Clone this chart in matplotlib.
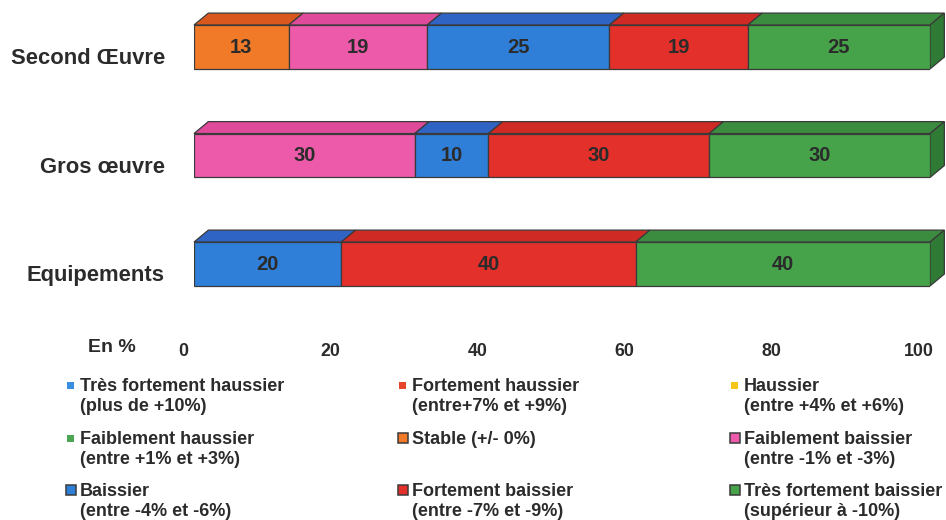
import matplotlib
matplotlib.use("Agg")
import matplotlib.pyplot as plt
from matplotlib.patches import Polygon, Rectangle
from matplotlib.transforms import ScaledTranslation

plt.rcParams['font.family'] = ['Liberation Sans', 'DejaVu Sans']
plt.rcParams['font.weight'] = 'bold'

# Données (en %)
categories = ['Second Œuvre', 'Gros œuvre', 'Equipements']
series_labels = [
    'Très fortement haussier\n(plus de +10%)',
    'Fortement haussier\n(entre+7% et +9%)',
    'Haussier\n(entre +4% et +6%)',
    'Faiblement haussier\n(entre +1% et +3%)',
    'Stable (+/- 0%)',
    'Faiblement baissier\n(entre -1% et -3%)',
    'Baissier\n(entre -4% et -6%)',
    'Fortement baissier\n(entre -7% et -9%)',
    'Très fortement baissier\n(supérieur à -10%)',
]
tres_fort_haussier = [0, 0, 0]
fort_haussier = [0, 0, 0]
haussier = [0, 0, 0]
faible_haussier = [0, 0, 0]
stable = [13, 0, 0]
faible_baissier = [19, 30, 0]
baissier = [25, 10, 20]
fort_baissier = [19, 30, 40]
tres_fort_baissier = [25, 30, 40]
x_ticks = [0, 20, 40, 60, 80, 100]

series = [tres_fort_haussier, fort_haussier, haussier, faible_haussier, stable,
          faible_baissier, baissier, fort_baissier, tres_fort_baissier]

# couleurs : face avant, dessus, côté
front = ['#3a8ee0', '#e8452d', '#f5c518', '#4ca552', '#f07a28',
         '#ee5aaa', '#2f7fd8', '#e3302a', '#47a34a']
top = ['#3070c8', '#d23a26', '#dcae10', '#3f8e45', '#d9581e',
       '#e04a9a', '#3064c4', '#cf2a24', '#3c8c3f']
side = ['#2a62b0', '#b83020', '#c09a10', '#357a3a', '#c04c18',
        '#c84088', '#2a56a8', '#b02420', '#2f7a34']
edged = [False, False, False, False, True, True, True, True, True]
edge = '#3a3a3a'
txt = '#2b2b2b'

W, H = 946, 520
fig = plt.figure(figsize=(W / 100, H / 100), dpi=100)
ax = fig.add_axes([194 / W, 1 - 330 / H, 736 / W, 330 / H])

bar_h = 0.405
dx, dy = 1.95, 0.11

for i, cat in enumerate(categories):
    vals = [s[i] for s in series]
    total = sum(vals)
    cum = 0
    last = max(k for k, v in enumerate(vals) if v > 0)
    for k, v in enumerate(vals):
        if v == 0:
            continue
        left = cum / total * 100
        w = v / total * 100
        ax.barh(i, w, left=left, height=bar_h, color=front[k],
                edgecolor=edge, linewidth=0.9, zorder=2)
        y0 = i - bar_h / 2
        ax.add_patch(Polygon([(left, y0), (left + w, y0), (left + w + dx, y0 - dy),
                              (left + dx, y0 - dy)], closed=True, facecolor=top[k],
                             edgecolor=edge, linewidth=0.9, clip_on=False, zorder=1))
        if k == last:
            r = left + w
            ax.add_patch(Polygon([(r, y0), (r + dx, y0 - dy), (r + dx, y0 + bar_h - dy),
                                  (r, y0 + bar_h)], closed=True, facecolor=side[k],
                                 edgecolor=edge, linewidth=0.9, clip_on=False, zorder=1))
        ax.text(left + w / 2, i, str(v), ha='center', va='center',
                fontsize=14.5, color=txt, zorder=3)
        cum += v

ax.set_xlim(0, 100)
ax.set_ylim(2.608, -0.4332)
ax.set_xticks(x_ticks)
ax.set_yticks(range(len(categories)))
ax.set_yticklabels(categories, fontsize=15.8, color=txt)
ax.tick_params(length=0)
ax.tick_params(axis='x', pad=9.5, labelsize=12.8, labelcolor=txt)
ax.tick_params(axis='y', pad=21)
for s in ax.spines.values():
    s.set_visible(False)
for lab in ax.get_xticklabels():
    lab.set_transform(lab.get_transform() + ScaledTranslation(-11 / 100, 0, fig.dpi_scale_trans))
for lab in ax.get_yticklabels():
    lab.set_transform(lab.get_transform() + ScaledTranslation(0, -9 / 100, fig.dpi_scale_trans))

fig.text(112 / W, 1 - 348 / H, 'En %', ha='center', va='center', fontsize=14, color=txt)

# légende en 3 colonnes, remplie ligne par ligne
col_x = [70.5, 402.5, 734.5]
row_y = [385, 438, 490]
for k, lab in enumerate(series_labels):
    cx, cy = col_x[k % 3], row_y[k // 3]
    s = 10 if edged[k] else 7
    fig.add_artist(Rectangle(((cx - s / 2) / W, 1 - (cy + s / 2) / H), s / W, s / H,
                             transform=fig.transFigure, facecolor=front[k],
                             edgecolor=edge if edged[k] else 'none', linewidth=1.1))
    fig.text((cx + 9) / W, 1 - (cy - 7) / H, lab, ha='left', va='top',
             fontsize=13, color=txt, linespacing=1.22)

fig.savefig('out.png', dpi=100)
